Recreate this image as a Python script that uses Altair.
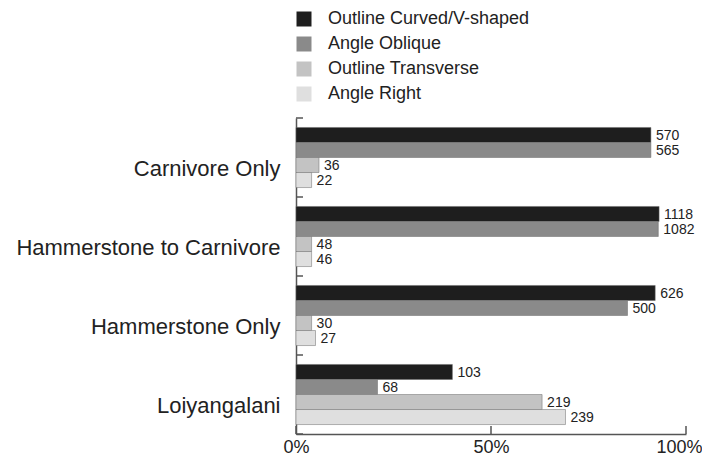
import altair as alt
import pandas as pd

categories = ["Carnivore Only", "Hammerstone to Carnivore", "Hammerstone Only", "Loiyangalani"]
series = ["Outline Curved/V-shaped", "Angle Oblique", "Outline Transverse", "Angle Right"]

# percent of group (bar length)
pct_curved = [91.0, 93.1, 92.1, 40.1]
pct_oblique = [91.0, 92.9, 85.0, 20.9]
pct_transverse = [5.9, 4.0, 4.0, 63.1]
pct_right = [4.0, 4.0, 5.0, 69.1]

# counts shown as bar labels
n_curved = [570, 1118, 626, 103]
n_oblique = [565, 1082, 500, 68]
n_transverse = [36, 48, 30, 219]
n_right = [22, 46, 27, 239]

x_ticks = [0, 50, 100]
colors = ["#1e1e1e", "#8a8a8a", "#c3c3c3", "#dfdfdf"]

pcts = [pct_curved, pct_oblique, pct_transverse, pct_right]
counts = [n_curved, n_oblique, n_transverse, n_right]
rows = []
for si, s in enumerate(series):
    for ci, c in enumerate(categories):
        rows.append({"group": c, "series": s, "pct": pcts[si][ci], "n": counts[si][ci]})
df = pd.DataFrame(rows)

FONT = "Liberation Sans"

y_axis = alt.Axis(title=None, ticks=False, domain=True, domainColor="#555555",
                  domainWidth=1.5, labelFontSize=22, labelPadding=16, labelOffset=11,
                  labelColor="#222222", labelFont=FONT, labelLimit=0)
x_axis = alt.Axis(title=None, values=x_ticks, labelExpr="datum.value + '%'",
                  ticks=False, grid=False, domainColor="#555555", domainWidth=1.5,
                  labelFontSize=18, labelPadding=4, labelColor="#222222",
                  labelFont=FONT,
                  labelAlign={"condition": {"test": "datum.value == 100", "value": "right"},
                              "value": "center"},
                  labelOffset={"condition": {"test": "datum.value == 100", "value": 16},
                               "value": 0})

y_enc = alt.Y("group:N", sort=categories,
              scale=alt.Scale(paddingInner=0, paddingOuter=0), axis=y_axis)
yoff_enc = alt.YOffset("series:N", sort=series,
                       scale=alt.Scale(paddingInner=0, paddingOuter=0.63))
x_enc = alt.X("pct:Q", scale=alt.Scale(domain=[0, 100]), axis=x_axis)

bars = alt.Chart(df).mark_bar(stroke="#6a6a6a", strokeWidth=0.5).encode(
    x=x_enc,
    y=y_enc,
    yOffset=yoff_enc,
    color=alt.Color("series:N", sort=series,
                    scale=alt.Scale(domain=series, range=colors),
                    legend=alt.Legend(orient="none", legendX=-1, legendY=-108, title=None,
                                      symbolType="square", symbolSize=225,
                                      symbolStrokeWidth=0, labelFontSize=18, labelOffset=15,
                                      rowPadding=7, padding=0, labelFont=FONT,
                                      labelColor="#222222", labelLimit=0)),
)

labels = alt.Chart(df).mark_text(align="left", baseline="middle", dx=5, dy=1,
                                 fontSize=14, font=FONT, color="#222222").encode(
    x=alt.X("pct:Q", axis=x_axis),
    y=alt.Y("group:N", sort=categories, axis=y_axis),
    yOffset=alt.YOffset("series:N", sort=series),
    text=alt.Text("n:Q"),
)

tick_df = pd.DataFrame({"group": categories})
ytick_top = alt.Chart(tick_df).mark_rule(color="#555555", strokeWidth=1.5).encode(
    y=alt.Y("group:N", sort=categories, bandPosition=0, axis=y_axis),
    x=alt.value(0), x2=alt.value(7),
)
last_df = pd.DataFrame({"group": [categories[-1]]})
ytick_bottom = alt.Chart(last_df).mark_rule(color="#555555", strokeWidth=1.5).encode(
    y=alt.Y("group:N", sort=categories, bandPosition=1, axis=y_axis),
    x=alt.value(0), x2=alt.value(7),
)
xt_df = pd.DataFrame({"pct": x_ticks})
xticks = alt.Chart(xt_df).mark_rule(color="#555555", strokeWidth=1.5).encode(
    x=alt.X("pct:Q", axis=x_axis),
    y=alt.value(316), y2=alt.value(308),
)

chart = alt.layer(bars, labels, ytick_top, ytick_bottom, xticks).properties(
    width=390, height=316,
    autosize=alt.AutoSizeParams(type="none"),
    padding={"left": 288, "top": 110, "right": 16, "bottom": 22},
).configure(font=FONT, view=alt.ViewConfig(stroke=None))

chart.save("out.html", embed_options={"renderer": "svg", "actions": False})
